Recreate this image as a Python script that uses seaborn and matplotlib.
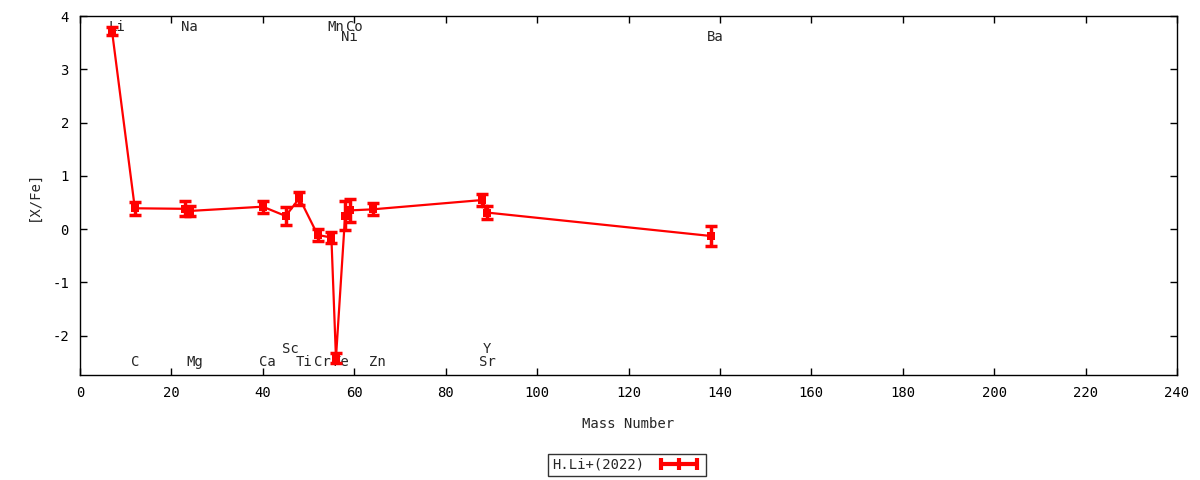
import matplotlib
matplotlib.use("Agg")
import matplotlib.pyplot as plt
from matplotlib.lines import Line2D
import seaborn as sns
import pandas as pd

# abundance pattern, mass number of main isotope vs [X/Fe]
elements = ['Li', 'C', 'Na', 'Mg', 'Ca', 'Sc', 'Ti', 'Cr', 'Mn', 'Fe',
            'Ni', 'Co', 'Zn', 'Sr', 'Y', 'Ba']
mass = [7, 12, 23, 24, 40, 45, 48, 52, 55, 56, 58, 59, 64, 88, 89, 138]
xfe = [3.72, 0.39, 0.38, 0.34, 0.42, 0.245, 0.58, -0.11, -0.16, -2.42,
       0.25, 0.35, 0.37, 0.545, 0.31, -0.13]
err = [0.08, 0.12, 0.14, 0.10, 0.11, 0.16, 0.12, 0.11, 0.10, 0.10,
       0.27, 0.22, 0.11, 0.11, 0.12, 0.19]
label_row = ['top', 'bot', 'top', 'bot', 'bot', 'bot2', 'bot', 'bot', 'top', 'bot',
             'top2', 'top', 'bot', 'bot', 'bot2', 'top2']
series_name = 'H.Li+(2022)'

df = pd.DataFrame({'mass': mass, 'xfe': xfe, 'err': err,
                   'element': elements, 'row': label_row})

sns.set_style("ticks")
plt.rcParams['font.family'] = ['DejaVu Sans Mono', 'DejaVu Sans']
plt.rcParams['font.size'] = 10
plt.rcParams['axes.unicode_minus'] = False

red = '#ff0000'
fs = 10
fig = plt.figure(figsize=(12, 4.8), dpi=100)
ax = fig.add_axes([80 / 1200, 1 - 375 / 480, 1097 / 1200, 359 / 480])

sns.lineplot(data=df, x='mass', y='xfe', sort=False, color=red, linewidth=1.6,
             marker='s', markersize=6, markeredgewidth=0, ax=ax, legend=False)
ax.errorbar(df['mass'], df['xfe'], yerr=df['err'], fmt='none', ecolor=red,
            elinewidth=2.5, capsize=4, capthick=2.5)

# element names, left-justified near their mass number
row_y = {'top': 3.8, 'top2': 3.6, 'bot': -2.5, 'bot2': -2.25}
for _, r in df.iterrows():
    ax.text(r['mass'] - 0.8, row_y[r['row']], r['element'], ha='left', va='center',
            fontsize=fs, zorder=1)

ax.set_xlim(0, 240)
ax.set_ylim(-2.74, 4)
ax.set_xticks(range(0, 241, 20))
ax.set_yticks(range(-2, 5))
ax.tick_params(direction='in', length=5, width=1, top=True, right=True,
               pad=8, labelsize=fs, colors='black')
for s in ax.spines.values():
    s.set_color('black')
    s.set_linewidth(1)

ax.set_xlabel('Mass Number', fontsize=fs)
ax.set_ylabel('[X/Fe]', fontsize=fs)
ax.xaxis.set_label_coords(0.5, -0.117)
ax.yaxis.set_label_coords(-0.036, 0.5)

handle = Line2D([], [], color=red, linewidth=3, marker='|', markersize=9,
                markeredgewidth=3)
leg = ax.legend([handle], [series_name], loc='center', bbox_to_anchor=(0.4985, -0.25),
                markerfirst=False, numpoints=3, handlelength=3.2, fancybox=False,
                frameon=True, edgecolor='black', borderpad=0.3, handletextpad=0.9,
                borderaxespad=0, fontsize=fs)
leg.get_frame().set_linewidth(1)

fig.savefig('out.png', dpi=100)
